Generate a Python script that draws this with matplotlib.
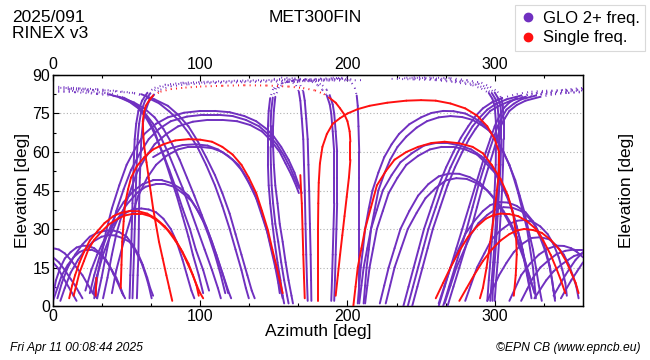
import matplotlib
matplotlib.use('Agg')
import numpy as np
from matplotlib import pyplot as plt
from matplotlib.collections import LineCollection
from matplotlib.lines import Line2D

plt.rcParams['font.family'] = ['Liberation Sans', 'DejaVu Sans']

purple = '#7030c0'
red = '#ff1010'

# satellite passes, (azimuth, elevation) in deg
glo_low_left = [
    [(0, 22.5), (4, 22), (8, 20.5), (12, 18), (16, 15), (20, 12), (24, 8), (27, 5), (30, 3)],
    [(0, 19), (4, 17), (8, 14), (12, 10.5), (15, 8), (18, 5), (20, 3)],
    [(0, 17), (3, 15), (6, 12), (9, 9), (12, 6), (14, 4), (16, 2)],
    [(0, 4), (2, 10), (5, 15), (8, 18.5), (12, 21), (16, 22.8), (20, 23.5), (24, 23.4), (28, 22.5),
     (32, 20.5), (36, 18), (40, 14), (43, 11), (46, 7), (48, 4)],
    [(0, 2), (3, 7), (6, 12), (10, 16), (14, 19), (18, 21), (22, 22), (26, 22), (30, 21), (34, 19),
     (38, 16), (41, 12.5), (44, 9), (47, 5), (49, 3)],
    [(3, 3), (6, 9), (10, 15), (15, 20), (20, 24), (25, 27), (30, 28.5), (35, 29.3), (40, 29.5),
     (45, 28.8), (50, 27), (54, 24), (58, 20), (61, 16), (64, 11), (66, 7), (68, 4)],
    [(5, 2), (8, 7), (12, 13), (17, 18), (22, 22), (27, 25), (33, 27), (38, 27.6), (42, 27.5),
     (47, 26.5), (52, 25), (56, 21.5), (60, 17), (63, 12), (65, 8), (67, 3)],
    [(22, 6), (26, 14), (30, 20), (35, 26), (40, 31), (45, 34.5), (50, 36.5), (55, 37.7), (60, 38),
     (65, 37.6), (70, 36.5), (75, 34), (80, 30), (84, 25), (88, 18), (91, 12), (94, 6), (96, 3)],
    [(25, 5), (28, 12), (32, 20), (37, 28), (42, 35), (48, 40.5), (55, 45), (61, 47.5), (68, 49),
     (74, 49), (80, 48), (86, 46), (92, 43), (97, 38.5), (102, 33), (106, 27), (110, 20), (114, 12), (117, 5)],
    [(27, 5), (30, 12), (34, 20), (39, 27.5), (44, 34), (50, 39.5), (57, 44), (63, 46.5), (70, 47.5),
     (76, 47.5), (82, 46.5), (88, 44), (94, 41), (99, 36.5), (104, 31), (108, 25), (112, 18), (116, 11), (119, 5)],
    [(29, 4), (29.5, 11)],
]

glo_zenith_left = [
    [(0, 85.5), (10, 85.2), (20, 84.7), (30, 84), (40, 82.8), (48, 81.2), (55, 79), (60, 76.5), (65, 72.5),
     (69, 68), (72, 63), (76, 57), (80, 50), (84, 43), (88, 35), (92, 27), (95, 20), (99, 12), (102, 5)],
    [(0, 84.8), (12, 84.5), (24, 83.8), (35, 83), (45, 81.3), (52, 79.5), (58, 77), (63, 73.5), (67, 69.5),
     (71, 64.5), (75, 59), (79, 53), (84, 45), (88, 38), (93, 30), (97, 22), (102, 14), (106, 6)],
    [(0, 84), (13, 83.8), (26, 83.2), (38, 82.5), (48, 80.8), (56, 78.5), (62, 75.5), (68, 71), (73, 66),
     (78, 60), (83, 53), (88, 46), (93, 38), (98, 30), (103, 22), (108, 14), (112, 7), (114, 3)],
    [(0, 83.5), (15, 83.3), (30, 82.6), (45, 81.5), (55, 79.3), (62, 77), (69, 73.5), (75, 69), (81, 63),
     (86, 57), (91, 50), (96, 43), (101, 35.5), (106, 28), (111, 20), (115, 13), (119, 6), (121, 3)],
    [(5, 85), (18, 84.8), (30, 84.5), (43, 83.8), (55, 83), (64, 81.2), (72, 79), (79, 75.8), (86, 72),
     (92, 67.5), (98, 62), (104, 55), (110, 47), (115, 39), (120, 30), (124, 22), (128, 14), (131, 7), (133, 3)],
    [(10, 84.5), (23, 84.3), (35, 84), (48, 83.3), (60, 82.5), (69, 80.5), (78, 78), (85, 74.5), (92, 70),
     (98, 64.5), (104, 58), (110, 51), (115, 44), (120, 36), (124, 28), (128, 20), (132, 12), (135, 6), (137, 3)],
]

glo_high_left = [
    [(28, 3), (30, 11), (33, 20), (36, 29), (40, 38), (45, 47), (50, 55), (56, 61.5), (62, 67), (70, 71),
     (78, 73.5), (89, 75.3), (100, 76), (110, 76), (120, 75.5), (130, 74), (138, 72), (145, 69), (150, 66),
     (155, 62), (160, 57), (164, 52), (167, 47), (169, 44)],
    [(30, 3), (33, 11), (36, 20), (39, 28.5), (43, 37), (48, 45.5), (53, 53), (59, 59.5), (65, 65), (72, 69),
     (80, 72), (91, 73.8), (102, 74.5), (112, 74.5), (122, 74), (131, 72.5), (140, 70), (146, 67), (152, 63),
     (157, 58.5), (161, 54), (164, 50), (167, 46)],
    [(34, 3), (37, 11), (40, 20), (43, 28), (47, 36), (52, 44), (57, 52), (63, 58), (69, 63), (77, 67),
     (85, 70), (95, 71.8), (105, 72.5), (115, 72.5), (125, 72), (134, 70.5), (142, 68), (148, 64.5), (154, 60),
     (158, 55.5), (162, 51), (165, 47), (167, 44)],
    [(40, 5), (43, 14), (48, 25), (53, 34.5), (58, 43), (64, 50), (70, 55), (77, 58.5), (85, 61), (92, 62),
     (100, 62), (108, 61.5), (115, 60), (122, 57), (128, 53), (133, 48), (138, 42), (142, 35), (146, 28),
     (149, 21), (152, 14), (154, 8), (156, 3)],
    [(68, 58), (74, 60), (80, 61.5), (88, 62.7), (97, 63), (105, 62.5), (112, 61), (119, 58.5), (126, 55),
     (131, 50.5), (136, 45), (141, 38), (145, 30), (148, 22.5), (151, 15), (153, 9), (154, 5)],
    [(52, 3), (52.5, 12), (53, 20), (53.5, 30), (54, 40), (54.5, 50), (55, 58), (55.5, 65), (56.5, 71),
     (58, 76), (60.5, 80), (64, 83), (69, 85), (76, 86.2), (88, 87), (105, 87.4), (125, 87.8), (150, 88.1),
     (175, 88.3), (200, 88.5)],
    [(54, 3), (54.5, 12), (55, 20), (55.5, 30), (56, 40), (56.5, 50), (57, 58), (57.5, 65), (58.5, 71),
     (60, 76), (62.5, 80), (66, 82.8), (71, 84.8), (78, 86), (90, 86.8), (107, 87.2), (127, 87.6), (152, 87.9),
     (177, 88.1), (205, 88.4)],
    [(57, 3), (57.5, 12), (58, 20), (58.3, 30), (58.5, 40), (59, 50), (59.5, 58), (60, 65), (61, 71),
     (62.5, 75.5), (65, 79.5), (68.5, 82.3), (73, 84.3), (80, 85.6), (92, 86.4), (110, 86.9), (130, 87.2),
     (155, 87.5), (180, 87.7), (210, 88)],
]

glo_zenith_mid = [
    [(190, 88), (175, 87.7), (160, 87.3), (153, 86.5), (149.5, 84.5), (147.5, 81), (146.5, 76), (146, 70),
     (146, 62), (146, 55), (146.5, 47), (147.5, 40), (149, 32), (150.5, 25), (152.5, 17), (154.5, 10),
     (156, 4), (157, 1)],
    [(195, 88.5), (178, 88.1), (163, 87.7), (155.5, 86.8), (151.5, 84.8), (149.3, 81.2), (148.2, 76),
     (147.8, 70), (147.8, 62), (148, 55), (148.5, 47), (149.5, 40), (151, 32), (153, 25), (155, 17),
     (157, 10), (159, 4), (160, 1)],
    [(200, 89), (182, 88.6), (166, 88.1), (158, 87.2), (153.5, 85.2), (151, 81.5), (150, 76), (149.5, 70),
     (149.5, 62), (150, 55), (151, 47), (152.5, 40), (154, 32), (156, 25), (158, 17), (160, 10),
     (162, 4), (163, 1)],
    [(160, 87.5), (163, 87), (165, 86), (167, 83.5), (168, 80), (169, 73), (170, 65), (170.5, 55), (171, 45),
     (171.5, 32), (172, 20), (172.5, 10), (173, 2)],
    [(163, 88), (166, 87.3), (168, 86), (170, 83.5), (171, 80), (172, 73), (173, 65), (173.5, 55), (174, 45),
     (174.5, 32), (175, 20), (175.3, 10), (175.5, 2)],
    [(150, 88.5), (160, 88.3), (170, 88), (176, 87.3), (180, 86), (183, 84.2), (186, 82), (188, 78.5),
     (189, 75), (190, 68), (191, 60), (191, 50), (191, 40), (190.5, 30), (190, 20), (189.5, 10), (189, 2)],
    [(155, 89), (164, 88.7), (172, 88.3), (178, 87.5), (183, 86), (186, 84.2), (188, 82), (190, 78.5),
     (191, 75), (192, 68), (193, 60), (193, 50), (193, 40), (192.5, 30), (192, 20), (191.5, 10), (191, 2)],
    [(190, 89), (196, 88.7), (200, 88), (203, 86.8), (205, 85), (206.3, 82), (207, 78), (207.5, 70),
     (208, 60), (208, 50), (208, 40), (208, 30), (208, 20), (208, 10), (208, 2)],
]

glo_high_right = [
    [(207, 1), (208, 8), (209, 15), (210.5, 22), (212, 30), (214.5, 38), (217, 45), (221, 52), (225, 58),
     (230, 63), (235, 67), (242, 70.8), (250, 73.5), (257, 75.2), (265, 76), (272, 75.9), (280, 75),
     (286, 73.3), (292, 71), (297, 67.8), (302, 64), (306, 59.8), (310, 55), (313, 49.8), (316, 44),
     (319, 37), (322, 30), (324, 22.5), (326, 15), (327, 9), (328, 3)],
    [(211, 1), (212, 8), (213, 15), (214.5, 22), (216, 30), (218.5, 37.5), (221, 45), (225, 51.5), (229, 57),
     (234, 62), (240, 66), (247, 69.5), (254, 72), (262, 73.5), (270, 74), (278, 73.6), (285, 72.5),
     (291, 70.5), (297, 68), (302, 64.3), (306, 60), (310, 54.8), (314, 49), (317, 43), (320, 37),
     (323, 29.5), (326, 22), (328, 15), (330, 8), (332, 2)],
    [(208, 1), (209.5, 8), (211, 15), (213.5, 22.5), (216, 30), (220, 37.5), (224, 45), (230, 51), (236, 56),
     (244, 59.6), (252, 62.5), (260, 63.5), (268, 63.5), (276, 62.6), (284, 61), (291, 58.3), (297, 55),
     (302, 50.8), (306, 46), (310, 40.8), (313, 35), (316, 28.5), (319, 22), (321, 16), (323, 10), (325, 3)],
    [(212, 1), (213.5, 8), (215, 15), (217.5, 22.5), (220, 30), (224, 37), (228, 44), (234, 50), (240, 55),
     (248, 58.5), (256, 61), (264, 62), (272, 62), (280, 61), (288, 59), (294, 55.7), (300, 52), (304, 47.8),
     (308, 43), (312, 37.3), (315, 31), (318, 24.5), (320, 18), (322, 12), (324, 6)],
    [(222, 1), (225, 8), (228, 15), (232, 22.5), (236, 30), (242, 37), (248, 43), (255, 47.5), (262, 50.5),
     (269, 51.6), (276, 51.5), (283, 50.2), (290, 48), (296, 44.3), (302, 40), (307, 35.3), (312, 30),
     (316, 24.2), (320, 18), (324, 11), (327, 5)],
    [(226, 1), (229, 8), (232, 15), (236.5, 22.5), (241, 30), (247, 36.3), (253, 42), (260, 46), (267, 49),
     (274, 49.8), (281, 49.5), (288, 47.8), (295, 45), (301, 41.3), (306, 37), (311, 32.2), (315, 27),
     (319, 21), (322, 15), (325, 9), (328, 4)],
]

glo_rising_right = [
    [(238, 0), (241.5, 7.5), (245, 15), (248.5, 22.5), (252, 30), (257, 38.5), (262, 47), (267, 54), (272, 60),
     (277, 65.5), (282, 70), (287, 74), (292, 77), (298, 79.3), (305, 81), (315, 82.6), (325, 83.5),
     (335, 83.9), (345, 84), (360, 84.5)],
    [(241, 0), (244.5, 7.5), (248, 15), (251.5, 22.5), (255, 30), (260, 38.5), (265, 47), (270, 54), (275, 60),
     (280, 65.3), (285, 70), (290, 73.5), (295, 76.5), (301, 78.8), (308, 80.5), (318, 82), (328, 83),
     (338, 83.3), (348, 83.5), (360, 84)],
    [(244, 0), (247.5, 7.5), (251, 15), (254.5, 22.5), (258, 30), (263, 38.5), (268, 47), (273, 54), (278, 60),
     (282.5, 65), (287, 69), (292, 72.8), (297, 76), (304, 78.3), (311, 80), (321, 81.5), (331, 82.5),
     (341, 82.8), (350, 83), (360, 83.3)],
    [(262, 0), (266, 7.5), (270, 15), (274, 22.5), (278, 30), (282.5, 38.5), (287, 47), (290.5, 53.5), (294, 60),
     (297, 65), (300, 70), (303, 73.8), (306, 77), (310, 79.3), (315, 81), (325, 82.6), (335, 83.5),
     (348, 84.3), (360, 85)],
    [(265, 0), (269, 7.5), (273, 15), (277, 22.5), (281, 30), (285, 38.5), (289, 47), (292.5, 53.5), (296, 60),
     (299, 65), (302, 70), (305, 73.5), (308, 76.5), (313, 78.8), (318, 80.5), (328, 82), (338, 83),
     (349, 83.8), (360, 84.3)],
    [(268, 0), (272, 7.5), (276, 15), (280, 22.5), (284, 30), (288, 38.5), (292, 47), (295.5, 53.5), (299, 60),
     (301.5, 65), (304, 70), (307, 73.2), (310, 76), (315, 78.3), (321, 80), (331, 81.5), (341, 82.5),
     (350, 83.1), (360, 83.6)],
]

glo_zenith_right = [
    [(230, 88.5), (245, 88.3), (260, 88), (273, 87.2), (285, 86), (291, 84.7), (296, 83), (298.5, 80.7),
     (300, 78), (300.8, 72), (301, 65), (300.7, 55), (300, 45), (299, 35), (298, 25), (297, 17), (296, 10), (295, 2)],
    [(235, 88.8), (249, 88.6), (263, 88.2), (276, 87.4), (287, 86.3), (293, 84.9), (298, 83), (300.5, 80.7),
     (302, 78), (302.8, 72), (303, 65), (302.7, 55), (302, 45), (301, 35), (300, 25), (299, 17), (298, 10), (297, 2)],
    [(240, 89), (253, 88.8), (266, 88.5), (278, 87.7), (289, 86.6), (295, 85.1), (300, 83.2), (302.5, 80.8),
     (304, 78), (304.5, 72), (304.5, 65), (304, 55), (303, 45), (302, 35), (301, 25), (300, 17), (299, 10), (298.5, 2)],
    [(245, 89.2), (258, 89), (270, 88.8), (281, 88), (291, 87), (297, 85.4), (302, 83.5), (304.5, 81),
     (305.5, 78), (306, 72), (306, 65), (305.7, 55), (305, 45), (304, 35), (303, 25), (302, 17), (301, 10), (300, 2)],
]

glo_low_right = [
    [(262, 1), (266, 8), (270, 15), (275, 21.5), (280, 28), (286, 33), (292, 37), (297, 39.3), (303, 40.5),
     (309, 40.3), (315, 39), (321, 36.5), (326, 33), (330, 28), (334, 22), (337, 16), (339, 10), (340, 6), (341, 2)],
    [(266, 1), (270, 8), (274, 15), (279, 21.5), (284, 28), (289, 32.3), (295, 35.5), (300, 37.5), (306, 38.5),
     (312, 38.3), (318, 37), (323, 34.5), (328, 31), (332, 26.5), (335, 21), (337.5, 15.5), (339, 10), (340, 6), (341, 3)],
    [(280, 2), (284, 8.5), (288, 15), (293, 20.5), (298, 26), (304, 29.5), (310, 32), (315, 33.2), (320, 33.5),
     (326, 32.8), (331, 31), (336, 28), (340, 24), (343.5, 19), (346, 14), (348, 9), (349, 4)],
    [(295, 2), (299, 7), (303, 12), (308, 16.8), (313, 21), (319, 24.3), (325, 26.5), (331, 26.8), (337, 26),
     (342, 23.5), (347, 20), (350.5, 16), (353, 12), (355.5, 7.5), (357, 3)],
    [(310, 2), (314, 7), (318, 12), (324, 16.5), (330, 20), (336, 22.3), (342, 23.5), (347, 23.4), (352, 22.5),
     (356, 21), (360, 19)],
    [(318, 2), (322, 6.5), (326, 11), (331, 15), (337, 18), (342, 20.2), (348, 21.5), (354, 22), (360, 22)],
    [(327, 3), (331, 6.5), (335, 10), (340, 13.5), (345, 16), (350, 18), (354, 19.5), (360, 20.5)],
    [(340, 4), (344, 8), (348, 12), (352, 15.5), (355, 18), (360, 21)],
    [(345, 3), (348.5, 6.5), (352, 10), (356, 13.5), (360, 17)],
]

single_tracks = [
    [(11, 3), (13, 8), (15, 12), (18, 17), (21, 21), (25, 25.5), (30, 29), (35, 32.3), (41, 35), (46, 36.3),
     (52, 37), (58, 36.9), (64, 36), (70, 34), (76, 31), (82, 27), (87, 22), (91, 17), (95, 12), (98, 7.5),
     (100, 5), (102, 3)],
    [(14, 4), (16, 8.5), (18, 13), (21, 17.5), (24, 22), (28, 25.8), (33, 29), (38, 31.8), (44, 34), (49, 35.3),
     (55, 36), (60, 36), (66, 35), (72, 32.8), (78, 29.5), (83, 25.5), (88, 21), (92, 16.5), (95, 12),
     (97.5, 8), (99, 4)],
    [(29, 4), (29.5, 11)],
    [(46, 7), (46.5, 16), (47, 25), (48, 33), (49, 40), (51, 45.5), (53, 50), (57, 54.5), (62, 58), (68, 61),
     (75, 63), (83, 64.5), (92, 65), (100, 64.8), (108, 64), (115, 62), (122, 59), (128, 55), (133, 50),
     (138, 44), (142, 37), (146, 29.5), (149, 22), (152, 15), (154, 10), (156, 5)],
    [(81, 2), (79, 7), (77, 12), (74.5, 18.5), (72, 25), (70, 31.5), (68, 38), (66.5, 44), (65, 50), (63.5, 56),
     (62, 62), (61.3, 67), (61, 72), (61.8, 75.5), (63, 78), (65.5, 80.3), (68, 82), (73, 83.5), (80, 84.5),
     (90, 85.1), (100, 85.5), (115, 85.8), (130, 86), (145, 85.9), (160, 85.5), (170, 84.9), (178, 84),
     (184, 82.6), (188, 81), (192, 79.2), (195, 77), (198, 74.5), (200, 72), (201.5, 68), (202, 64),
     (202, 57), (201, 50), (199.5, 42.5), (198, 35), (196.5, 27.5), (195, 20), (193.5, 12), (192, 4)],
    [(168, 51), (168.5, 45), (169, 40), (169.5, 30), (170, 20), (170.5, 11), (171, 3)],
    [(180, 2), (180, 15), (180, 30), (180.2, 40), (180.5, 48), (181.3, 55.5), (183, 62), (186, 67), (190, 71),
     (195, 73.2), (200, 75), (207, 76.7), (215, 78), (227, 79.2), (240, 80), (250, 80.2), (260, 80),
     (270, 78.9), (280, 77), (288, 74.2), (295, 70), (300, 65), (303, 60), (303, 52), (301.5, 45),
     (299.5, 35), (297, 25), (294.5, 15), (292, 7), (290, 3)],
    [(204, 0), (205.5, 7.5), (207, 15), (209.5, 22.5), (212, 30), (216, 38.5), (220, 47), (226, 52.5),
     (232, 57), (240, 60), (248, 62), (257, 63.5), (266, 64), (276, 63.4), (285, 62), (292, 59.5),
     (298, 55), (304, 49.5), (309, 43), (312.5, 36), (314.5, 28), (315, 20), (314.3, 12), (313, 4)],
    [(260, 3), (265, 9), (270, 15), (276, 21.5), (282, 27), (288, 31), (294, 34), (299, 35.4), (304, 36),
     (310, 35.8), (316, 35), (322, 33), (328, 30), (333, 25.5), (338, 20), (342, 14.5), (345, 10), (348, 5)],
    [(276, 2), (281, 7), (286, 12), (292, 17.5), (298, 22), (304, 25.5), (310, 28), (315, 29.4), (320, 30),
     (326, 29.6), (332, 28.5), (338, 25.8), (344, 22), (348.5, 17.5), (352, 13), (355, 9), (357, 5)],
]


def draw_passes(ax, tracks, color):
    solid, dotted = [], []
    for tr in tracks:
        p = np.array(tr, float)
        for a, b in zip(p[:-1], p[1:]):
            # near zenith the azimuth changes fast, epochs show up as dots
            if min(a[1], b[1]) >= 81:
                dotted.append([a, b])
            else:
                solid.append([a, b])
    ax.add_collection(LineCollection(solid, colors=color, linewidths=1.4, capstyle='round', zorder=3))
    ax.add_collection(LineCollection(dotted, colors=color, linewidths=1.4, linestyles=(0, (0.5, 2.2)), zorder=3))


fig = plt.figure(figsize=(6.5, 3.6), dpi=100)
ax = fig.add_axes([53 / 650, 54 / 360, 530 / 650, 231 / 360])

for fam in [glo_low_left, glo_zenith_left, glo_high_left, glo_zenith_mid,
            glo_high_right, glo_rising_right, glo_zenith_right, glo_low_right]:
    draw_passes(ax, fam, purple)
draw_passes(ax, single_tracks, red)

ax.set_xlim(0, 360)
ax.set_ylim(0, 90)
ax.set_xticks([0, 100, 200, 300])
ax.set_xticks(np.arange(0, 361, 100 / 3), minor=True)
ax.set_yticks(np.arange(0, 91, 15))
ax.set_yticks(np.arange(0, 91, 7.5), minor=True)
ax.tick_params(which='both', direction='in', top=True, right=True, labeltop=True,
               labelright=True, labelsize=11.5, pad=2, width=0.8)
ax.tick_params(which='major', length=4)
ax.tick_params(which='minor', length=2.5)
ax.grid(axis='y', which='major', linestyle=(0, (1, 2)), color='#b0b0b0', linewidth=0.8)
for s in ax.spines.values():
    s.set_linewidth(1.0)

ax.set_xlabel('Azimuth [deg]', fontsize=12.5, labelpad=0)
ax.set_ylabel('Elevation [deg]', fontsize=12.5, labelpad=2)
ry = ax.twinx()
ry.set_ylim(0, 90)
ry.set_yticks([])
ry.set_ylabel('Elevation [deg]', fontsize=12.5, labelpad=26)

fig.text(12 / 650, 1 - 10 / 360, '2025/091', fontsize=12.5, va='top', ha='left')
fig.text(12 / 650, 1 - 26 / 360, 'RINEX v3', fontsize=12.5, va='top', ha='left')
fig.text(315 / 650, 1 - 10 / 360, 'MET300FIN', fontsize=12.5, va='top', ha='center')
fig.text(10 / 650, 12 / 360, 'Fri Apr 11 00:08:44 2025', fontsize=8.7, style='italic', ha='left', va='center')
fig.text(640 / 650, 12 / 360, '\u00a9EPN CB (www.epncb.eu)', fontsize=8.7, style='italic', ha='right', va='center')

handles = [Line2D([], [], marker='o', ls='', color=purple, markersize=6, label='GLO 2+ freq.'),
           Line2D([], [], marker='o', ls='', color=red, markersize=6, label='Single freq.')]
leg = fig.legend(handles=handles, loc='upper right', bbox_to_anchor=(0.993, 0.985), fontsize=12,
                 frameon=True, fancybox=False, edgecolor='#d0d0d0', handlelength=0.8,
                 handletextpad=0.5, borderpad=0.35, labelspacing=0.25, borderaxespad=0)
leg.get_frame().set_linewidth(0.8)

fig.savefig('out.png', dpi=100)
